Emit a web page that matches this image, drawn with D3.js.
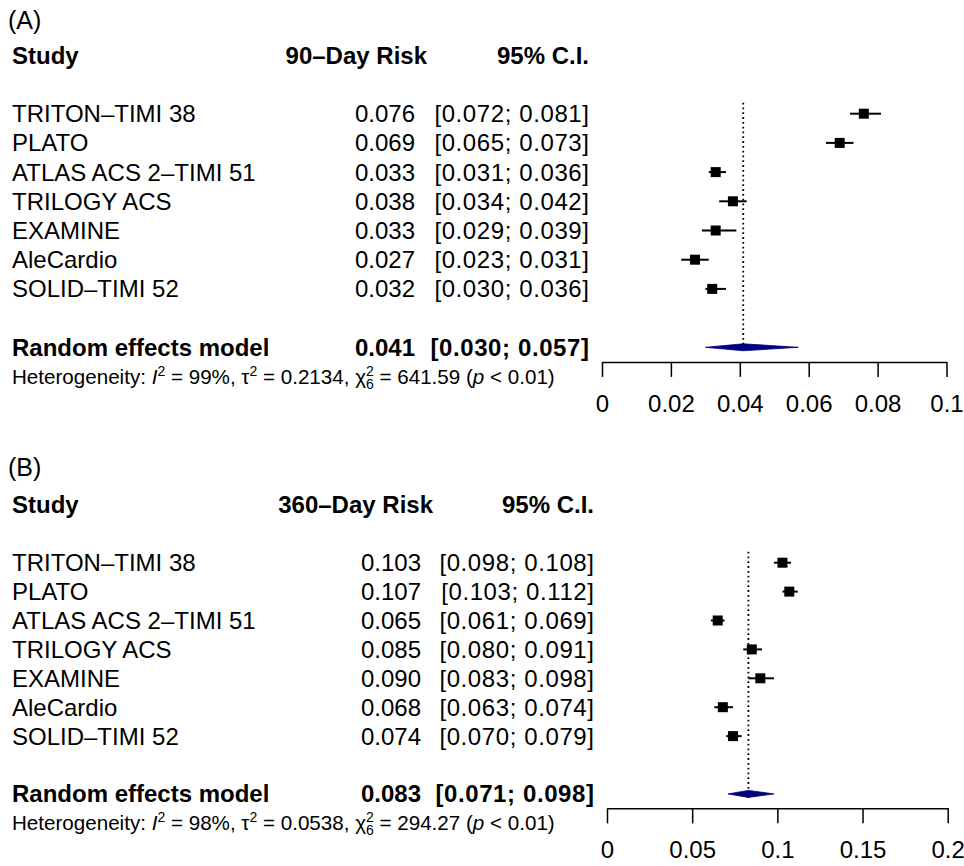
<!DOCTYPE html>
<html lang="en">
<head>
<meta charset="utf-8">
<title>Forest plots</title>
<script src="https://d3js.org/d3.v7.min.js"></script>
<style>
  body { margin: 0; background: #fff; }
  svg text { font-family: "Liberation Sans", Arial, Helvetica, sans-serif; fill: #000; }
</style>
</head>
<body>
<div id="chart"></div>
<script>
// study names, shared by both panels
var studies = ["TRITON\u2013TIMI 38", "PLATO", "ATLAS ACS 2\u2013TIMI 51", "TRILOGY ACS",
               "EXAMINE", "AleCardio", "SOLID\u2013TIMI 52"];

// (A) 90-day risk
var risk90  = [0.076, 0.069, 0.033, 0.038, 0.033, 0.027, 0.032];
var lower90 = [0.072, 0.065, 0.031, 0.034, 0.029, 0.023, 0.030];
var upper90 = [0.081, 0.073, 0.036, 0.042, 0.039, 0.031, 0.036];
var pooled90 = [0.041, 0.030, 0.057];   // estimate, lower, upper
var ticks90 = [0, 0.02, 0.04, 0.06, 0.08, 0.1];
var tickLabels90 = ["0", "0.02", "0.04", "0.06", "0.08", "0.1"];
var het90 = ["99%", "0.2134", "6", "641.59", "0.01"];

// (B) 360-day risk
var risk360  = [0.103, 0.107, 0.065, 0.085, 0.090, 0.068, 0.074];
var lower360 = [0.098, 0.103, 0.061, 0.080, 0.083, 0.063, 0.070];
var upper360 = [0.108, 0.112, 0.069, 0.091, 0.098, 0.074, 0.079];
var pooled360 = [0.083, 0.071, 0.098];
var ticks360 = [0, 0.05, 0.1, 0.15, 0.2];
var tickLabels360 = ["0", "0.05", "0.1", "0.15", "0.2"];
var het360 = ["98%", "0.0538", "6", "294.27", "0.01"];

var w = 964, h = 866;
var svg = d3.select("#chart").append("svg")
  .attr("width", w)
  .attr("height", h);

var fmt = d3.format(".3f");
var fs = "24px";

function panel(opt) {
  var g = svg.append("g");

  var x = d3.scaleLinear().domain(opt.domain).range(opt.xRange);
  // row index -> vertical centre
  var y = d3.scaleLinear().domain([0, 1]).range([opt.top, opt.top + opt.step]);

  // panel letter
  g.append("text")
    .attr("x", 8).attr("y", y(opt.letterRow))
    .attr("dy", "0.35em")
    .style("font-size", "25px")
    .text(opt.letter);

  // headers
  var head = g.append("g").style("font-weight", "bold").style("font-size", fs);
  head.append("text").attr("x", 12).attr("y", y(-2)).attr("dy", "0.35em").text("Study");
  head.append("text").attr("x", opt.riskHeadRight).attr("y", y(-2)).attr("dy", "0.35em")
    .attr("text-anchor", "end").text(opt.riskTitle);
  head.append("text").attr("x", opt.ciRight).attr("y", y(-2)).attr("dy", "0.35em")
    .attr("text-anchor", "end").text("95% C.I.");

  // study rows
  var rows = g.selectAll("g.row")
    .data(studies.map(function(s, i) {
      return {name: s, est: opt.est[i], lo: opt.lo[i], hi: opt.hi[i], i: i};
    }))
    .enter().append("g").attr("class", "row")
    .style("font-size", fs);

  rows.append("text").attr("x", 12).attr("y", function(d) { return y(d.i); })
    .attr("dy", "0.35em").text(function(d) { return d.name; });
  rows.append("text").attr("x", opt.valueRight).attr("y", function(d) { return y(d.i); })
    .attr("dy", "0.35em").attr("text-anchor", "end")
    .text(function(d) { return fmt(d.est); });
  rows.append("text").attr("x", opt.ciRight + 0.6).attr("y", function(d) { return y(d.i); })
    .attr("dy", "0.35em").attr("text-anchor", "end")
    .style("letter-spacing", "0.6px")
    .text(function(d) { return "[" + fmt(d.lo) + "; " + fmt(d.hi) + "]"; });

  // reference line at pooled estimate
  g.append("line")
    .attr("x1", x(opt.pooled[0])).attr("x2", x(opt.pooled[0]))
    .attr("y1", y(0) - 11).attr("y2", y(8) + 4)
    .attr("stroke", "#000")
    .attr("stroke-width", 1.8)
    .attr("stroke-dasharray", "1.8,3");

  // CI lines and squares
  rows.append("line")
    .attr("x1", function(d) { return x(d.lo); })
    .attr("x2", function(d) { return x(d.hi); })
    .attr("y1", function(d) { return y(d.i); })
    .attr("y2", function(d) { return y(d.i); })
    .attr("stroke", "#000").attr("stroke-width", 2);
  var sq = 10;
  rows.append("rect")
    .attr("x", function(d) { return x(d.est) - sq / 2; })
    .attr("y", function(d) { return y(d.i) - sq / 2; })
    .attr("width", sq).attr("height", sq)
    .attr("fill", "#000");

  // pooled row
  var pr = g.append("g").style("font-weight", "bold").style("font-size", fs);
  pr.append("text").attr("x", 12).attr("y", y(8)).attr("dy", "0.35em").text("Random effects model");
  pr.append("text").attr("x", opt.valueRight).attr("y", y(8)).attr("dy", "0.35em")
    .attr("text-anchor", "end").text(fmt(opt.pooled[0]));
  pr.append("text").attr("x", opt.ciRight + 0.6).attr("y", y(8)).attr("dy", "0.35em")
    .attr("text-anchor", "end")
    .style("letter-spacing", "0.6px")
    .text("[" + fmt(opt.pooled[1]) + "; " + fmt(opt.pooled[2]) + "]");

  var yd = y(8), hh = 3.5;
  g.append("path")
    .attr("d", "M" + x(opt.pooled[1]) + "," + yd +
               "L" + x(opt.pooled[0]) + "," + (yd - hh) +
               "L" + x(opt.pooled[2]) + "," + yd +
               "L" + x(opt.pooled[0]) + "," + (yd + hh) + "Z")
    .attr("fill", "#00007f")
    .attr("stroke", "#00007f")
    .attr("stroke-width", 0.8);

  // heterogeneity line
  var ht = g.append("text").attr("x", 12).attr("y", y(9)).attr("dy", "0.35em")
    .style("font-size", "20.6px");
  var hv = opt.het;
  ht.append("tspan").text("Heterogeneity: ");
  ht.append("tspan").style("font-style", "italic").text("I");
  ht.append("tspan").attr("dy", -8).style("font-size", "14px").text("2");
  ht.append("tspan").attr("dy", 8).text(" = " + hv[0] + ", \u03c4");
  ht.append("tspan").attr("dy", -8).style("font-size", "14px").text("2");
  ht.append("tspan").attr("dy", 8).text(" = " + hv[1] + ", \u03c7");
  ht.append("tspan").attr("dy", 5).style("font-size", "14px").text(hv[2]);
  ht.append("tspan").attr("dy", -13).attr("dx", -7.8).style("font-size", "14px").text("2");
  ht.append("tspan").attr("dy", 8).text(" = " + hv[3] + " (");
  ht.append("tspan").style("font-style", "italic").text("p");
  ht.append("tspan").text(" < " + hv[4] + ")");

  // axis
  var axis = d3.axisBottom(x)
    .tickValues(opt.ticks)
    .tickFormat(function(d, i) { return opt.tickLabels[i]; })
    .tickSize(15)
    .tickSizeOuter(0)
    .tickPadding(18);
  var ax = g.append("g")
    .attr("transform", "translate(0," + y(8.5) + ")")
    .call(axis);
  ax.select(".domain").attr("stroke-width", 1.5);
  ax.selectAll(".tick line").attr("stroke-width", 1.5);
  ax.selectAll(".tick text")
    .style("font-size", "24px")
    .style("font-family", "'Liberation Sans', Arial, Helvetica, sans-serif");
}

panel({
  letter: "(A)", letterRow: -3.2, riskTitle: "90\u2013Day Risk",
  est: risk90, lo: lower90, hi: upper90, pooled: pooled90, het: het90,
  domain: [0, 0.1], xRange: [602, 946.5],
  ticks: ticks90, tickLabels: tickLabels90,
  top: 113.7, step: 29.2,
  valueRight: 415, ciRight: 589, riskHeadRight: 427
});

panel({
  letter: "(B)", letterRow: -3.3, riskTitle: "360\u2013Day Risk",
  est: risk360, lo: lower360, hi: upper360, pooled: pooled360, het: het360,
  domain: [0, 0.2], xRange: [607, 947.7],
  ticks: ticks360, tickLabels: tickLabels360,
  top: 562.7, step: 28.9,
  valueRight: 421, ciRight: 594, riskHeadRight: 433
});
</script>
</body>
</html>
